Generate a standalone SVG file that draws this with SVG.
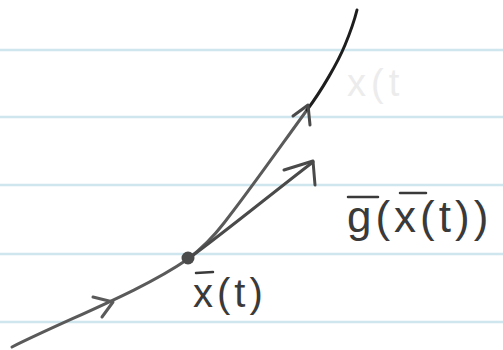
<svg xmlns="http://www.w3.org/2000/svg" width="503" height="350" viewBox="0 0 503 350">
<style>
.rule{stroke:#cfe6ee;stroke-width:2.5}
.ink{fill:none;stroke-linecap:round;stroke-linejoin:round}
.lbl{font-family:"Liberation Sans",Arial,sans-serif;fill:#3a3a3a;letter-spacing:4px}
.bar{stroke:#3a3a3a;stroke-width:2.5;stroke-linecap:round}
</style>
<rect width="503" height="350" fill="#ffffff"/>
<g id="paper">
<line class="rule" x1="0" y1="50" x2="503" y2="50"/>
<line class="rule" x1="0" y1="117" x2="503" y2="117"/>
<line class="rule" x1="0" y1="185" x2="503" y2="185"/>
<line class="rule" x1="0" y1="254" x2="503" y2="254"/>
<line class="rule" x1="0" y1="322" x2="503" y2="322"/>
</g>
<g id="connectors">
<g id="trajectory">
<path class="ink" stroke="#5a5a5a" stroke-width="3" d="M12,347 C70,318 140,292 188,259 C205,246 214,236 224,223 C250,190 285,140 307,110"/>
<path class="ink" stroke="#1e1e1e" stroke-width="3" d="M307,110 C322,90 338,62 345,45 C350,33 354,22 357,10"/>
<path class="ink" stroke="#5a5a5a" stroke-width="3" d="M93,297 L113,302 L102,317"/>
<path class="ink" stroke="#4a4a4a" stroke-width="3" d="M293,116 L308,105 L310,125"/>
</g>
<g id="tangent">
<path class="ink" stroke="#4a4a4a" stroke-width="3" d="M188,259 C230,228 270,195 313,162"/>
<path class="ink" stroke="#4a4a4a" stroke-width="3" d="M284,170 L313,161 L315,185"/>
</g>
</g>
<g id="point">
<circle cx="188" cy="258" r="6.5" fill="#4a4a4a"/>
</g>
<g id="label-x">
<text class="lbl" x="193" y="307" font-size="40">x(t)</text>
<line class="bar" x1="196" y1="273" x2="213" y2="272"/>
</g>
<g id="label-g">
<text class="lbl" x="347" y="232" font-size="44" letter-spacing="6">g(x(t))</text>
<line class="bar" x1="348" y1="197" x2="378" y2="197"/>
<line class="bar" x1="400" y1="193" x2="426" y2="193"/>
</g>
<g id="label-faint">
<text x="347" y="96" font-family="'Liberation Sans',Arial,sans-serif" font-size="38" fill="#ececec" letter-spacing="5">x(t</text>
</g>
</svg>
